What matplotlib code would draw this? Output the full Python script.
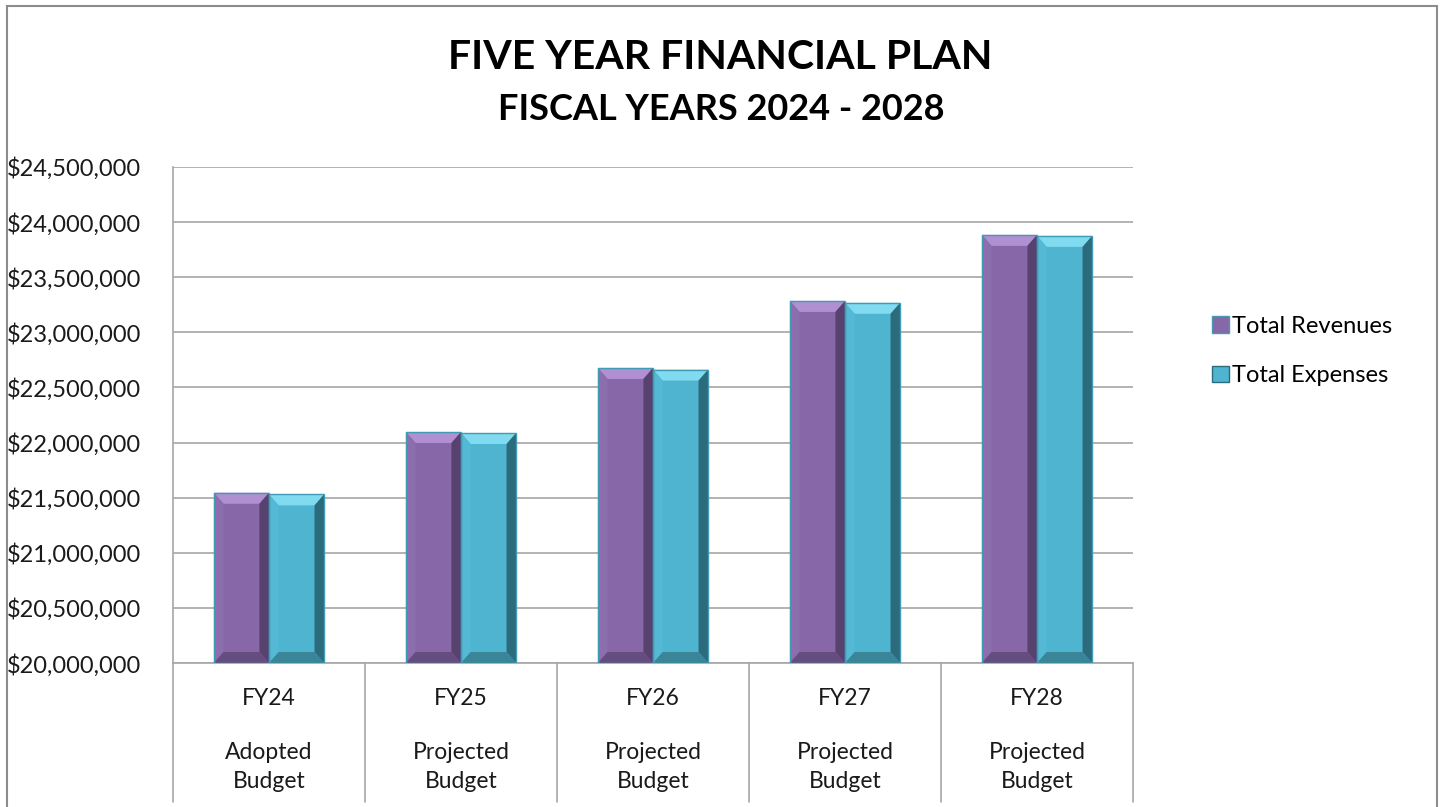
import matplotlib
matplotlib.use("Agg")
import matplotlib.pyplot as plt
import numpy as np
from matplotlib.patches import Polygon, Rectangle, Patch

plt.rcParams['font.family'] = ['Lato', 'DejaVu Sans']

# five year plan figures
years = ["FY24", "FY25", "FY26", "FY27", "FY28"]
stages = ["Adopted\nBudget", "Projected\nBudget", "Projected\nBudget",
          "Projected\nBudget", "Projected\nBudget"]
revenues = [21545000, 22096000, 22677000, 23285000, 23884000]
expenses = [21530000, 22087000, 22662000, 23268000, 23875000]

y_min, y_max, y_step = 20000000, 24500000, 500000

fig = plt.figure(figsize=(14.43, 8.07), dpi=100)
ax = fig.add_axes([0.1199, 0.1784, 0.6653, 0.6147])

x = np.arange(len(years))
w = 0.287


def bevel(bar, light, left_c, dark, bottom_c):
    x0, y0 = bar.get_x(), bar.get_y()
    x1, y1 = x0 + bar.get_width(), y0 + bar.get_height()
    bx, by = 0.05, 100000
    pieces = [
        ([(x0, y1), (x1, y1), (x1 - bx, y1 - by), (x0 + bx, y1 - by)], light),
        ([(x0, y1), (x0 + bx, y1 - by), (x0 + bx, y0 + by), (x0, y0)], left_c),
        ([(x1, y1), (x1, y0), (x1 - bx, y0 + by), (x1 - bx, y1 - by)], dark),
        ([(x0, y0), (x1, y0), (x1 - bx, y0 + by), (x0 + bx, y0 + by)], bottom_c),
    ]
    for pts, c in pieces:
        ax.add_patch(Polygon(pts, closed=True, facecolor=c, edgecolor='none', zorder=3))
    ax.add_patch(Rectangle((x0, y0), x1 - x0, y1 - y0, fill=False,
                           edgecolor='#3f9cb3', linewidth=1.0, zorder=4))


rev_bars = ax.bar(x - w / 2, np.array(revenues) - y_min, w, bottom=y_min,
                  color='#8767a8', zorder=2, label='Total Revenues')
exp_bars = ax.bar(x + w / 2, np.array(expenses) - y_min, w, bottom=y_min,
                  color='#4fb4cf', zorder=2, label='Total Expenses')

for b in rev_bars:
    bevel(b, '#b08fd2', '#8c6dad', '#57416f', '#654d80')
for b in exp_bars:
    bevel(b, '#80daf0', '#53b9d4', '#2b6b7c', '#3a8598')

ax.set_xlim(-0.5, len(years) - 0.5)
ax.set_ylim(y_min, y_max)
ax.set_yticks(np.arange(y_min, y_max + 1, y_step))
ax.set_yticklabels(["${:,.0f}".format(v) for v in np.arange(y_min, y_max + 1, y_step)],
                   fontsize=17, color='#1a1a1a')
ax.yaxis.grid(True, color='#a6a6a6', linewidth=1.2, zorder=0)
ax.set_axisbelow(True)
ax.tick_params(axis='y', length=0, pad=23)
ax.set_xticks([])
for s in ['top', 'right']:
    ax.spines[s].set_visible(False)
ax.spines['left'].set_color('#a6a6a6')
ax.spines['bottom'].set_color('#a6a6a6')
ax.spines['left'].set_linewidth(1.2)
ax.spines['bottom'].set_linewidth(1.2)

# category table under the plot
for i in range(len(years) + 1):
    ax.annotate('', xy=(i - 0.5, 0), xycoords=('data', 'axes fraction'),
                xytext=(i - 0.5, -0.28), textcoords=('data', 'axes fraction'),
                arrowprops=dict(arrowstyle='-', color='#a6a6a6', linewidth=1.2,
                                shrinkA=0, shrinkB=0))
for i, (yr, st) in enumerate(zip(years, stages)):
    ax.text(i, -0.0706, yr, transform=ax.get_xaxis_transform(), ha='center',
            va='center', fontsize=16.5, color='#1a1a1a')
    ax.text(i, -0.21, st, transform=ax.get_xaxis_transform(), ha='center',
            va='center', fontsize=16.5, color='#1a1a1a', linespacing=1.5)

fig.text(0.499, 0.929, "FIVE YEAR FINANCIAL PLAN", ha='center', va='center',
         fontsize=29.5, fontweight='bold', color='black')
fig.text(0.5, 0.864, "FISCAL YEARS 2024 - 2028", ha='center', va='center',
         fontsize=26, fontweight='bold', color='black')

handles = [Patch(facecolor='#8767a8', edgecolor='#3f9cb3'),
           Patch(facecolor='#4fb4cf', edgecolor='#2b6b7c')]
fig.legend(handles, ['Total Revenues', 'Total Expenses'], loc='center left',
           bbox_to_anchor=(0.832, 0.565), frameon=False, fontsize=17,
           handlelength=0.7, handleheight=0.7, handletextpad=0.15,
           labelspacing=1.2, borderpad=0)

fig.add_artist(Rectangle((0.005, -0.01), 0.991, 1.003, transform=fig.transFigure,
                         fill=False, edgecolor='#8c8c8c', linewidth=1.5))

fig.savefig("out.png", dpi=100)
